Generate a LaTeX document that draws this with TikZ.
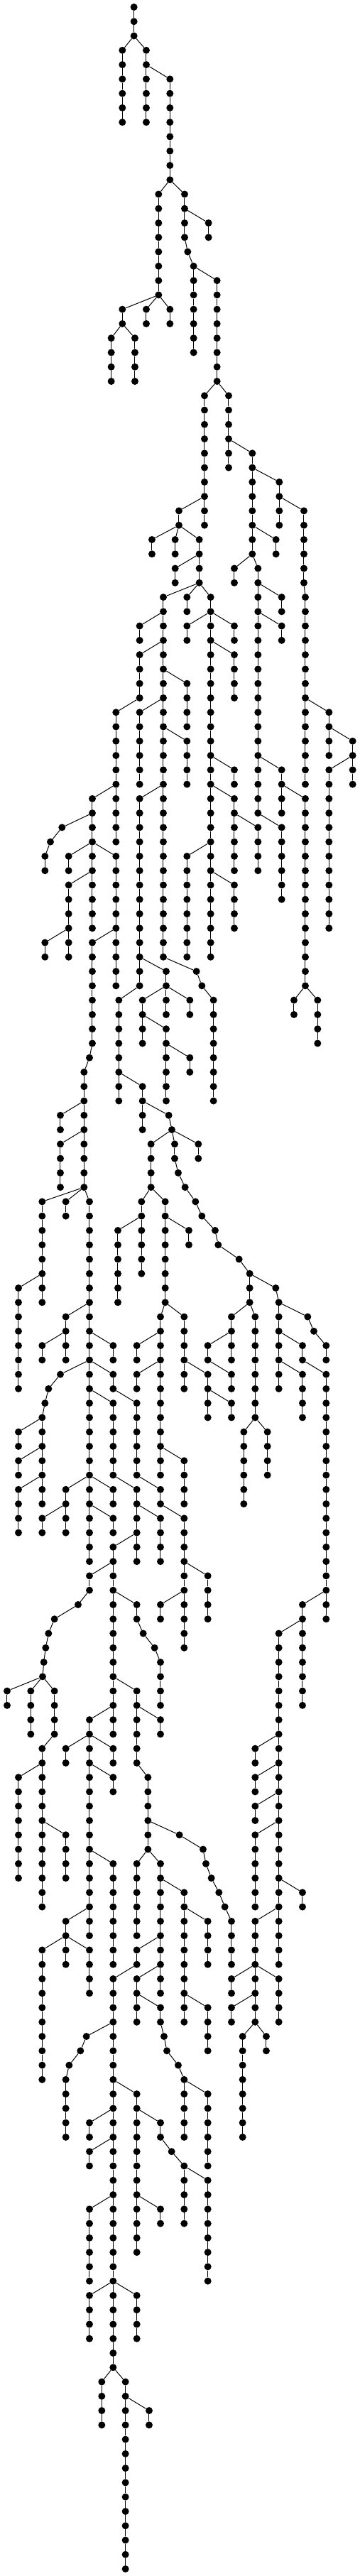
\documentclass[tikz,border=0pt]{standalone}
\begin{document}
\begin{tikzpicture}[x=0.333333pt,y=-20.27pt]
\tikzset{dot/.style={circle,fill=black,draw=none,inner sep=0pt,minimum size=10pt},
  edge/.style={draw=black,line width=1pt}}
\newcommand\Tch[3]{\foreach \l [remember=\l as \p (initially #2)] in {#2,...,#3}{\node[dot] (v#1-\l) at (#1,\l) {};\ifnum\l>#2\relax\draw[edge] (v#1-\p) -- (v#1-\l);\fi}}
\newcommand\Tbr[3]{\pgfmathtruncatemacro\Tnx{#2+1}\draw[edge] (v#1-#2) -- (v#3-\Tnx);}
\useasboundingbox (0,-0.4933) rectangle (1521,178.4933);
% chains
\Tch{566}{0}{2}
\Tch{517}{3}{8}
\Tch{618}{3}{8}
\Tch{718}{5}{12}
\Tch{670}{13}{20}
\Tch{517}{21}{22}
\Tch{470}{23}{26}
\Tch{570}{23}{26}
\Tch{618}{21}{22}
\Tch{718}{21}{22}
\Tch{780}{13}{16}
\Tch{881}{15}{16}
\Tch{793}{17}{17}
\Tch{818}{18}{24}
\Tch{917}{19}{26}
\Tch{864}{27}{36}
\Tch{756}{35}{36}
\Tch{642}{37}{38}
\Tch{740}{37}{38}
\Tch{842}{37}{40}
\Tch{740}{39}{40}
\Tch{690}{41}{66}
\Tch{590}{43}{44}
\Tch{790}{41}{42}
\Tch{890}{41}{66}
\Tch{790}{43}{44}
\Tch{990}{43}{44}
\Tch{966}{27}{32}
\Tch{1066}{31}{38}
\Tch{1166}{37}{38}
\Tch{990}{39}{40}
\Tch{1090}{39}{56}
\Tch{1190}{41}{42}
\Tch{1190}{43}{44}
\Tch{1190}{53}{56}
\Tch{1290}{55}{68}
\Tch{1242}{69}{70}
\Tch{1342}{69}{72}
\Tch{1190}{57}{62}
\Tch{1180}{33}{36}
\Tch{1284}{35}{40}
\Tch{1290}{41}{54}
\Tch{1390}{49}{52}
\Tch{1490}{51}{54}
\Tch{1390}{53}{64}
\Tch{590}{45}{48}
\Tch{490}{49}{58}
\Tch{790}{47}{50}
\Tch{590}{49}{54}
\Tch{790}{51}{54}
\Tch{590}{55}{68}
\Tch{990}{45}{48}
\Tch{990}{53}{54}
\Tch{990}{55}{60}
\Tch{1090}{57}{60}
\Tch{790}{59}{66}
\Tch{990}{61}{64}
\Tch{390}{55}{64}
\Tch{262}{57}{57}
\Tch{213}{58}{58}
\Tch{190}{59}{60}
\Tch{290}{59}{60}
\Tch{490}{59}{68}
\Tch{290}{61}{66}
\Tch{190}{65}{66}
\Tch{390}{65}{72}
\Tch{378}{73}{73}
\Tch{355}{74}{82}
\Tch{255}{77}{78}
\Tch{255}{79}{82}
\Tch{278}{83}{84}
\Tch{178}{83}{90}
\Tch{78}{89}{96}
\Tch{378}{83}{108}
\Tch{702}{67}{70}
\Tch{602}{69}{72}
\Tch{802}{69}{70}
\Tch{702}{71}{76}
\Tch{802}{73}{74}
\Tch{830}{67}{67}
\Tch{853}{68}{68}
\Tch{902}{69}{76}
\Tch{502}{69}{76}
\Tch{602}{75}{78}
\Tch{713}{77}{77}
\Tch{726}{78}{78}
\Tch{838}{79}{80}
\Tch{638}{79}{82}
\Tch{738}{79}{80}
\Tch{753}{81}{81}
\Tch{782}{82}{82}
\Tch{826}{83}{83}
\Tch{853}{84}{84}
\Tch{909}{85}{85}
\Tch{922}{86}{86}
\Tch{1010}{87}{87}
\Tch{1055}{88}{90}
\Tch{1165}{89}{89}
\Tch{1178}{90}{96}
\Tch{598}{83}{88}
\Tch{498}{85}{90}
\Tch{698}{83}{90}
\Tch{798}{85}{86}
\Tch{278}{91}{94}
\Tch{178}{93}{94}
\Tch{478}{93}{94}
\Tch{255}{95}{95}
\Tch{205}{96}{96}
\Tch{190}{97}{97}
\Tch{178}{98}{104}
\Tch{78}{99}{100}
\Tch{78}{101}{102}
\Tch{78}{103}{106}
\Tch{478}{95}{96}
\Tch{578}{97}{102}
\Tch{678}{103}{104}
\Tch{478}{97}{102}
\Tch{578}{103}{108}
\Tch{678}{91}{102}
\Tch{578}{93}{94}
\Tch{578}{95}{96}
\Tch{778}{101}{104}
\Tch{778}{91}{96}
\Tch{878}{95}{98}
\Tch{978}{97}{98}
\Tch{978}{91}{94}
\Tch{878}{93}{94}
\Tch{978}{95}{96}
\Tch{1078}{91}{98}
\Tch{1030}{99}{104}
\Tch{1130}{99}{102}
\Tch{1300}{91}{91}
\Tch{1326}{92}{92}
\Tch{1378}{93}{94}
\Tch{1278}{93}{94}
\Tch{1378}{95}{112}
\Tch{1278}{95}{98}
\Tch{278}{103}{106}
\Tch{178}{105}{106}
\Tch{478}{103}{104}
\Tch{478}{105}{106}
\Tch{678}{105}{108}
\Tch{778}{105}{114}
\Tch{878}{109}{112}
\Tch{678}{111}{112}
\Tch{478}{107}{120}
\Tch{378}{109}{110}
\Tch{330}{111}{111}
\Tch{230}{112}{112}
\Tch{205}{113}{113}
\Tch{193}{114}{114}
\Tch{185}{115}{115}
\Tch{180}{116}{116}
\Tch{30}{117}{118}
\Tch{130}{117}{120}
\Tch{230}{117}{120}
\Tch{178}{121}{132}
\Tch{78}{123}{130}
\Tch{278}{127}{130}
\Tch{578}{111}{112}
\Tch{605}{113}{113}
\Tch{653}{114}{114}
\Tch{678}{115}{118}
\Tch{578}{117}{122}
\Tch{678}{119}{120}
\Tch{378}{119}{134}
\Tch{278}{121}{122}
\Tch{478}{121}{122}
\Tch{478}{123}{124}
\Tch{478}{129}{136}
\Tch{278}{133}{136}
\Tch{625}{123}{128}
\Tch{758}{127}{127}
\Tch{858}{128}{128}
\Tch{870}{129}{129}
\Tch{893}{130}{130}
\Tch{925}{131}{131}
\Tch{950}{132}{132}
\Tch{978}{133}{136}
\Tch{578}{129}{134}
\Tch{678}{129}{138}
\Tch{778}{131}{140}
\Tch{878}{133}{136}
\Tch{878}{139}{142}
\Tch{578}{135}{136}
\Tch{478}{137}{164}
\Tch{578}{137}{140}
\Tch{678}{139}{140}
\Tch{693}{141}{141}
\Tch{705}{142}{142}
\Tch{753}{143}{143}
\Tch{778}{144}{148}
\Tch{878}{145}{150}
\Tch{178}{135}{144}
\Tch{378}{135}{138}
\Tch{365}{141}{141}
\Tch{340}{142}{142}
\Tch{292}{143}{143}
\Tch{278}{144}{148}
\Tch{578}{145}{156}
\Tch{378}{147}{148}
\Tch{678}{147}{148}
\Tch{725}{149}{149}
\Tch{778}{150}{154}
\Tch{878}{151}{158}
\Tch{378}{149}{150}
\Tch{378}{153}{158}
\Tch{678}{153}{154}
\Tch{378}{159}{162}
\Tch{578}{159}{162}
\Tch{430}{165}{168}
\Tch{530}{165}{178}
\Tch{630}{167}{168}
\Tch{1278}{111}{118}
\Tch{1178}{113}{136}
\Tch{1078}{121}{122}
\Tch{1078}{123}{124}
\Tch{1078}{125}{126}
\Tch{1078}{127}{132}
\Tch{1278}{131}{132}
\Tch{1078}{133}{140}
\Tch{978}{137}{138}
\Tch{1178}{137}{140}
\Tch{978}{139}{140}
\Tch{1025}{141}{148}
\Tch{1125}{141}{142}
% branches
\Tbr{566}{2}{517} \Tbr{566}{2}{618}
\Tbr{618}{4}{718}
\Tbr{718}{12}{670} \Tbr{718}{12}{780}
\Tbr{670}{20}{517} \Tbr{670}{20}{618} \Tbr{670}{20}{718}
\Tbr{517}{22}{470} \Tbr{517}{22}{570}
\Tbr{780}{14}{881}
\Tbr{780}{16}{793}
\Tbr{793}{17}{818}
\Tbr{818}{18}{917}
\Tbr{917}{26}{864} \Tbr{917}{26}{966}
\Tbr{864}{34}{756}
\Tbr{756}{36}{642} \Tbr{756}{36}{740} \Tbr{756}{36}{842}
\Tbr{842}{38}{740}
\Tbr{842}{40}{690} \Tbr{842}{40}{790} \Tbr{842}{40}{890}
\Tbr{690}{42}{590}
\Tbr{890}{42}{790} \Tbr{890}{42}{990}
\Tbr{966}{30}{1066}
\Tbr{1066}{32}{1180}
\Tbr{1066}{36}{1166}
\Tbr{1066}{38}{990} \Tbr{1066}{38}{1090}
\Tbr{1090}{40}{1190}
\Tbr{1090}{42}{1190}
\Tbr{1090}{52}{1190}
\Tbr{1190}{54}{1290}
\Tbr{1290}{68}{1242} \Tbr{1290}{68}{1342}
\Tbr{1090}{56}{1190}
\Tbr{1180}{34}{1284}
\Tbr{1284}{40}{1290}
\Tbr{1290}{48}{1390}
\Tbr{1390}{50}{1490}
\Tbr{1490}{52}{1390}
\Tbr{690}{44}{590}
\Tbr{590}{48}{490}
\Tbr{690}{46}{790}
\Tbr{690}{48}{590}
\Tbr{690}{50}{790}
\Tbr{690}{54}{590}
\Tbr{890}{44}{990}
\Tbr{890}{52}{990}
\Tbr{890}{54}{990}
\Tbr{990}{56}{1090}
\Tbr{890}{58}{790}
\Tbr{890}{60}{990}
\Tbr{490}{54}{390}
\Tbr{390}{56}{262}
\Tbr{262}{57}{213}
\Tbr{213}{58}{190}
\Tbr{390}{58}{290} \Tbr{390}{58}{490}
\Tbr{390}{60}{290}
\Tbr{290}{64}{190}
\Tbr{490}{64}{390}
\Tbr{390}{72}{378}
\Tbr{378}{73}{355}
\Tbr{355}{76}{255}
\Tbr{355}{78}{255}
\Tbr{355}{82}{178} \Tbr{355}{82}{278} \Tbr{355}{82}{378}
\Tbr{178}{88}{78}
\Tbr{590}{66}{702}
\Tbr{702}{68}{602} \Tbr{702}{68}{802}
\Tbr{602}{70}{702}
\Tbr{702}{72}{802}
\Tbr{690}{66}{830}
\Tbr{830}{67}{853}
\Tbr{853}{68}{902}
\Tbr{590}{68}{502}
\Tbr{502}{74}{602}
\Tbr{602}{76}{713}
\Tbr{713}{77}{726}
\Tbr{726}{78}{638} \Tbr{726}{78}{738} \Tbr{726}{78}{838}
\Tbr{738}{80}{753}
\Tbr{753}{81}{782}
\Tbr{782}{82}{826}
\Tbr{826}{83}{853}
\Tbr{853}{84}{909}
\Tbr{909}{85}{922}
\Tbr{922}{86}{1010}
\Tbr{1010}{87}{1055}
\Tbr{1055}{88}{1165}
\Tbr{1165}{89}{1178}
\Tbr{638}{82}{598} \Tbr{638}{82}{698}
\Tbr{598}{84}{498}
\Tbr{698}{84}{798}
\Tbr{378}{90}{278}
\Tbr{278}{92}{178}
\Tbr{378}{92}{478}
\Tbr{378}{94}{255}
\Tbr{255}{95}{205}
\Tbr{205}{96}{190}
\Tbr{190}{97}{178}
\Tbr{178}{98}{78}
\Tbr{178}{100}{78}
\Tbr{178}{102}{78}
\Tbr{378}{94}{478}
\Tbr{478}{96}{578}
\Tbr{578}{102}{678}
\Tbr{378}{96}{478}
\Tbr{478}{102}{578}
\Tbr{698}{90}{678} \Tbr{698}{90}{778}
\Tbr{678}{92}{578}
\Tbr{678}{94}{578}
\Tbr{678}{100}{778}
\Tbr{778}{94}{878}
\Tbr{878}{96}{978}
\Tbr{1055}{90}{978} \Tbr{1055}{90}{1078}
\Tbr{978}{92}{878}
\Tbr{878}{94}{978}
\Tbr{1078}{98}{1030} \Tbr{1078}{98}{1130}
\Tbr{1178}{90}{1300}
\Tbr{1300}{91}{1326}
\Tbr{1326}{92}{1378}
\Tbr{1178}{92}{1278}
\Tbr{1278}{94}{1378}
\Tbr{1178}{94}{1278}
\Tbr{378}{102}{278} \Tbr{378}{102}{478}
\Tbr{278}{104}{178}
\Tbr{378}{104}{478}
\Tbr{578}{104}{678}
\Tbr{678}{104}{778}
\Tbr{778}{108}{878}
\Tbr{778}{110}{678}
\Tbr{578}{106}{478}
\Tbr{478}{108}{378}
\Tbr{378}{110}{330}
\Tbr{330}{111}{230}
\Tbr{230}{112}{205}
\Tbr{205}{113}{193}
\Tbr{193}{114}{185}
\Tbr{185}{115}{180}
\Tbr{180}{116}{30} \Tbr{180}{116}{130} \Tbr{180}{116}{230}
\Tbr{230}{120}{178}
\Tbr{178}{122}{78}
\Tbr{178}{126}{278}
\Tbr{478}{110}{578}
\Tbr{578}{112}{605}
\Tbr{605}{113}{653}
\Tbr{653}{114}{678}
\Tbr{478}{116}{578}
\Tbr{578}{118}{678}
\Tbr{478}{118}{378}
\Tbr{378}{120}{278} \Tbr{378}{120}{478}
\Tbr{378}{122}{478}
\Tbr{378}{128}{478}
\Tbr{378}{132}{278}
\Tbr{578}{122}{625}
\Tbr{625}{126}{758}
\Tbr{758}{127}{858}
\Tbr{858}{128}{870}
\Tbr{870}{129}{893}
\Tbr{893}{130}{925}
\Tbr{925}{131}{950}
\Tbr{950}{132}{978}
\Tbr{625}{128}{578} \Tbr{625}{128}{678}
\Tbr{678}{130}{778}
\Tbr{778}{132}{878}
\Tbr{778}{138}{878}
\Tbr{678}{134}{578}
\Tbr{578}{136}{478}
\Tbr{678}{136}{578}
\Tbr{578}{138}{678}
\Tbr{678}{140}{693}
\Tbr{693}{141}{705}
\Tbr{705}{142}{753}
\Tbr{753}{143}{778}
\Tbr{778}{144}{878}
\Tbr{278}{134}{178} \Tbr{278}{134}{378}
\Tbr{478}{140}{365}
\Tbr{365}{141}{340}
\Tbr{340}{142}{292}
\Tbr{292}{143}{278}
\Tbr{478}{144}{578}
\Tbr{478}{146}{378}
\Tbr{578}{146}{678}
\Tbr{678}{148}{725}
\Tbr{725}{149}{778}
\Tbr{778}{150}{878}
\Tbr{478}{148}{378}
\Tbr{478}{152}{378}
\Tbr{578}{152}{678}
\Tbr{478}{158}{378} \Tbr{478}{158}{578}
\Tbr{478}{164}{430} \Tbr{478}{164}{530}
\Tbr{530}{166}{630}
\Tbr{1378}{110}{1278}
\Tbr{1278}{112}{1178}
\Tbr{1178}{120}{1078}
\Tbr{1178}{122}{1078}
\Tbr{1178}{124}{1078}
\Tbr{1178}{126}{1078}
\Tbr{1178}{130}{1278}
\Tbr{1178}{132}{1078}
\Tbr{1078}{136}{978} \Tbr{1078}{136}{1178}
\Tbr{1078}{138}{978}
\Tbr{1078}{140}{1025} \Tbr{1078}{140}{1125}
\end{tikzpicture}
\end{document}
